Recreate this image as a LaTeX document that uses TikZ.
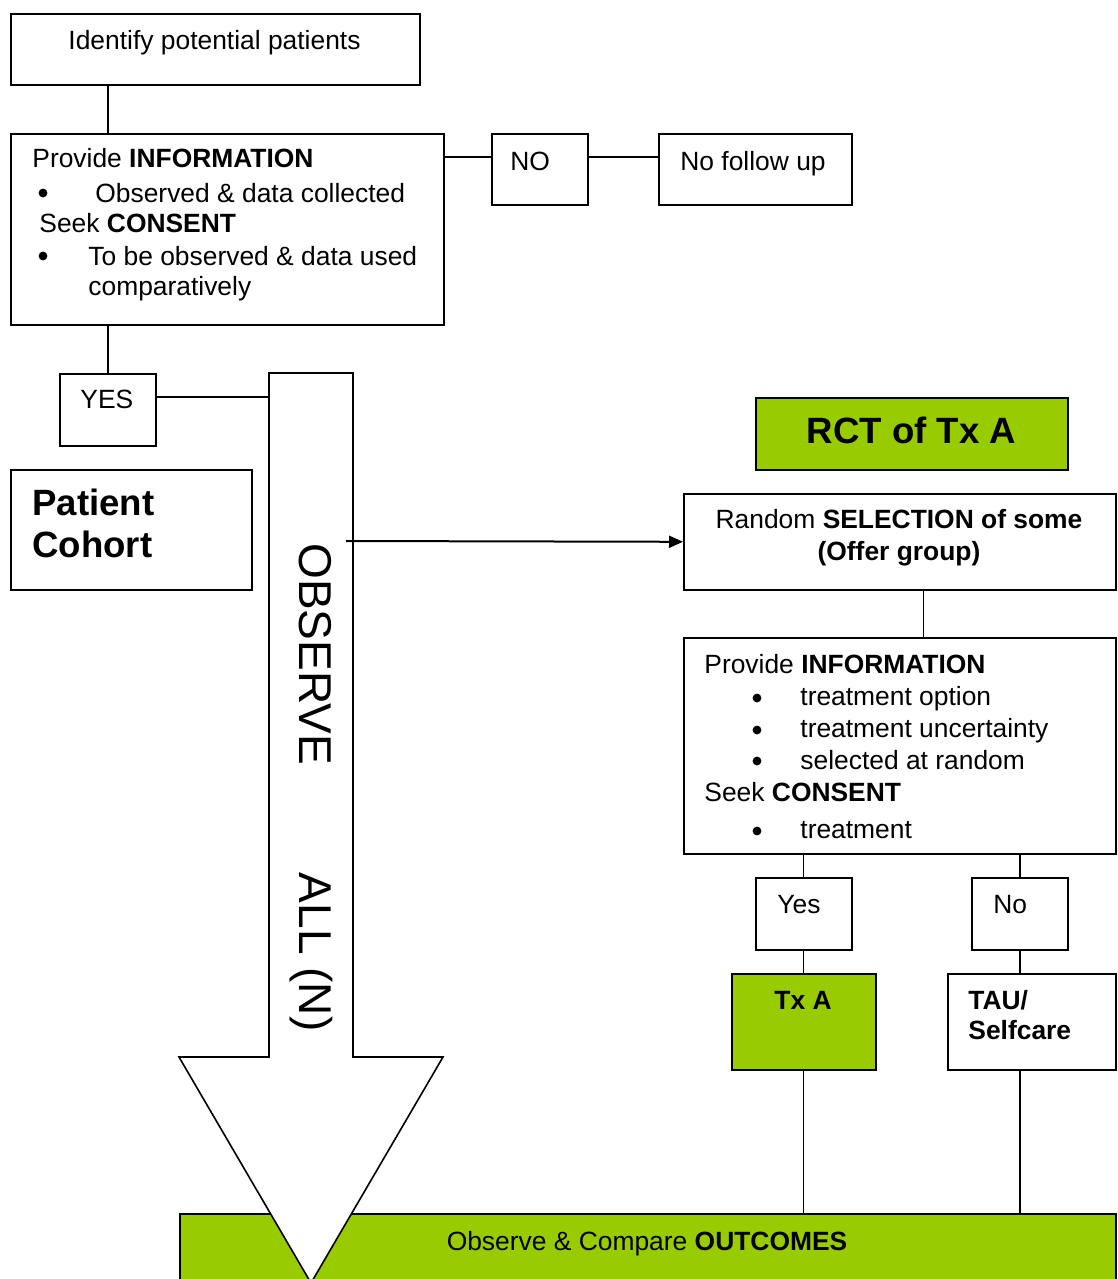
\documentclass[tikz,border=0pt]{standalone}
\usepackage{fontspec}
\setmainfont{Liberation Sans}
\usetikzlibrary{arrows.meta}
\definecolor{rctgreen}{HTML}{99CC00}
\tikzset{
  box/.style={draw, line width=0.8pt, anchor=north west, inner sep=0pt},
  greenbox/.style={box, fill=rctgreen},
  txt/.style={anchor=base west, inner sep=0pt, font=\fontsize{13.2}{15}\selectfont},
  ctxt/.style={txt, anchor=base},
  bigtxt/.style={txt, font=\fontsize{18.3}{21}\selectfont\bfseries},
  dot/.style={circle, fill, inner sep=0pt, minimum size=4.4pt},
  link/.style={line width=0.7pt},
  thinlink/.style={line width=0.5pt},
  thicklink/.style={line width=1pt},
}
\begin{document}
\begin{tikzpicture}[x=0.5pt,y=-0.5pt]
\clip (0,0) rectangle (1118,1279);
\fill[white] (0,0) rectangle (1118,1279);

% consent for the cohort
\node[box, minimum width=204.5pt, minimum height=35.5pt] (identify) at (10,13) {};
\node[ctxt] (identifytxt) at (214.5,50) {Identify potential patients};
\node[box, minimum width=216.5pt, minimum height=95.5pt] (inform) at (10,133) {};
\node[txt] (inform1) at (32,168) {Provide \textbf{INFORMATION}};
\node[dot] (bul1) at (43,193) {};
\node[txt] (inform2) at (95,202) {Observed \& data collected};
\node[txt] (inform3) at (39,232) {Seek \textbf{CONSENT}};
\node[dot] (bul2) at (43,256) {};
\node[txt] (inform4) at (88,265) {To be observed \& data used};
\node[txt] (inform5) at (88,295) {comparatively};
\node[box, minimum width=48pt, minimum height=35.5pt] (no) at (491,133) {};
\node[txt] (notxt) at (510,170) {NO};
\node[box, minimum width=96.5pt, minimum height=35.5pt] (nofollow) at (658,133) {};
\node[txt] (nofollowtxt) at (680,170) {No follow up};
\node[box, minimum width=48pt, minimum height=36pt] (yes) at (59,373) {};
\node[txt] (yestxt) at (80,408) {YES};
\node[box, minimum width=120.5pt, minimum height=60pt] (cohort) at (10,469) {};
\node[bigtxt] (cohort1) at (32,515) {Patient};
\node[bigtxt] (cohort2) at (32,557) {Cohort};

% the trial
\node[greenbox, minimum width=156pt, minimum height=36pt] (rct) at (755,397) {};
\node[bigtxt, anchor=base] (rcttxt) at (911.5,443) {RCT of Tx A};
\node[box, minimum width=216pt, minimum height=48pt] (select) at (683,493) {};
\node[ctxt] (select1) at (899,528) {Random \textbf{SELECTION of some}};
\node[ctxt, font=\fontsize{13.2}{15}\selectfont\bfseries] (select2) at (899,560) {(Offer group)};
\node[box, minimum width=216pt, minimum height=108pt] (consent) at (683,637) {};
\node[txt] (consent1) at (704,673) {Provide \textbf{INFORMATION}};
\node[dot] (bul3) at (757,698) {};
\node[txt] (consent2) at (800,705) {treatment option};
\node[dot] (bul4) at (757,730) {};
\node[txt] (consent3) at (800,737) {treatment uncertainty};
\node[dot] (bul5) at (757,761) {};
\node[txt] (consent4) at (800,769) {selected at random};
\node[txt] (consent5) at (704,801) {Seek \textbf{CONSENT}};
\node[dot] (bul6) at (757,831) {};
\node[txt] (consent6) at (800,838) {treatment};
\node[box, minimum width=48pt, minimum height=36pt] (yestwo) at (755,877) {};
\node[txt] (yestwotxt) at (777,913) {Yes};
\node[box, minimum width=48pt, minimum height=36pt] (notwo) at (971,877) {};
\node[txt] (notwotxt) at (993,913) {No};
\node[greenbox, minimum width=72pt, minimum height=48pt] (txa) at (731,973) {};
\node[ctxt, font=\fontsize{13.2}{15}\selectfont\bfseries] (txatxt) at (803,1009) {Tx A};
\node[box, minimum width=84pt, minimum height=48pt] (tau) at (947,973) {};
\node[txt, font=\fontsize{13.2}{15}\selectfont\bfseries] (tau1) at (968,1009) {TAU/};
\node[txt, font=\fontsize{13.2}{15}\selectfont\bfseries] (tau2) at (968,1039) {Selfcare};
\node[greenbox, minimum width=468pt, minimum height=50pt] (outcome) at (179,1213) {};
\node[ctxt] (outcometxt) at (647,1250) {Observe \& Compare \textbf{OUTCOMES}};

% connectors
\coordinate (nolink) at ([yshift=-12pt]no.north west);
\coordinate (yeslink) at ([yshift=-12pt]yes.north east);
\coordinate (shaftl) at (269,373);
\coordinate (shaftr) at (353,373);
\coordinate (obsout) at (346,541);
\coordinate (selectlink) at (923,589);
\draw[link] (yes.north |- identify.south) -- (yes.north |- inform.north);
\draw[link] (yes.north |- inform.south) -- (yes.north);
\draw[link] (nolink -| inform.east) -- (nolink);
\draw[link] (nolink -| no.east) -- (nolink -| nofollow.west);
\draw[link] (yeslink) -- (yeslink -| shaftl);
\draw[thinlink] (selectlink) -- (selectlink |- consent.north);
\draw[thinlink] (yestwo.north |- consent.south) -- (yestwo.north);
\draw[thinlink] (yestwo.south) -- (txa.north);
\draw[thinlink] (txa.south) -- (txa.south |- outcome.north);
\draw[thicklink] (notwo.north |- consent.south) -- (notwo.north);
\draw[thicklink] (notwo.south) -- (notwo.south |- tau.north);
\draw[thicklink] (notwo.south |- tau.south) -- (notwo.south |- outcome.north);

% big arrow over everyone
\draw[line width=0.8pt, fill=white] (shaftl) -- (shaftr) -- (353,1057) -- (443,1057)
  -- (311,1283) -- (179,1057) -- (269,1057) -- cycle;
\node[rotate=-90, anchor=base west, inner sep=0pt, font=\fontsize{23}{26}\selectfont]
  (observe) at (299,543) {OBSERVE\hspace{54pt}ALL (N)};
\draw[line width=1pt, -{Triangle[length=7pt,width=6pt]}] (obsout) -- (select.west);
\end{tikzpicture}
\end{document}
